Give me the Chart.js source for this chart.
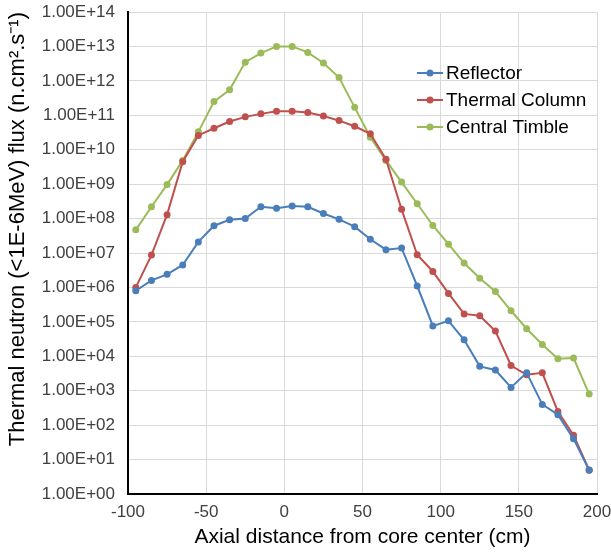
<!DOCTYPE html>
<html>
<head>
<meta charset="utf-8">
<script src="https://cdn.jsdelivr.net/npm/chart.js@4/dist/chart.umd.min.js"></script>
<style>
  html, body { margin: 0; padding: 0; background: #fff; }
  #wrap { width: 611px; height: 555px; }
</style>
</head>
<body>
<div id="wrap"><canvas id="flux"></canvas></div>
<script>
const xPos = [-95, -85, -75, -65, -55, -45, -35, -25, -15, -5, 5, 15, 25, 35, 45,
              55, 65, 75, 85, 95, 105, 115, 125, 135, 145, 155, 165, 175, 185, 195];

const reflector = [8e5, 1.6e6, 2.4e6, 4.5e6, 2.1e7, 6.2e7, 9.2e7, 1.0e8, 2.2e8, 2.0e8,
                   2.3e8, 2.2e8, 1.4e8, 9.5e7, 5.8e7, 2.5e7, 1.25e7, 1.4e7, 1.1e6, 7.6e4,
                   1.07e5, 3.0e4, 5.1e3, 4.0e3, 1.25e3, 3.3e3, 4.0e2, 2.0e2, 40, 5];

const thermalColumn = [1.0e6, 8.7e6, 1.3e8, 4.5e9, 2.6e10, 4.2e10, 6.6e10, 9.0e10, 1.1e11, 1.3e11,
                       1.3e11, 1.2e11, 9.5e10, 7.0e10, 4.8e10, 2.9e10, 5.3e9, 1.85e8, 8.9e6, 2.9e6,
                       6.7e5, 1.7e5, 1.5e5, 5.4e4, 5.4e3, 2.9e3, 3.3e3, 2.5e2, 51, 4.9];

const centralTimble = [4.7e7, 2.2e8, 9.7e8, 4.9e9, 3.3e10, 2.5e11, 5.5e11, 3.5e12, 6.4e12, 1.0e13,
                       1.0e13, 6.7e12, 3.3e12, 1.25e12, 1.7e11, 2.3e10, 4.9e9, 1.15e9, 2.7e8, 6.3e7,
                       1.8e7, 5.1e6, 1.85e6, 7.6e5, 2.1e5, 6.3e4, 2.2e4, 8.5e3, 8.9e3, 8.0e2];

const seriesNames = ['Reflector', 'Thermal Column', 'Central Timble'];
const seriesColors = ['#4a7ebb', '#c0504d', '#9bbb59'];
const yExponents = [0, 1, 2, 3, 4, 5, 6, 7, 8, 9, 10, 11, 12, 13, 14];

const FONT = 'Arial, "Liberation Sans", sans-serif';

function pts(vals) {
  return vals.map((v, i) => ({ x: xPos[i], y: v }));
}

function fmtExp(v) {
  const e = Math.round(Math.log10(v));
  return '1.00E' + (e < 0 ? '-' : '+') + String(Math.abs(e)).padStart(2, '0');
}

// legend drawn inside the plot area, like the original
const insideLegend = {
  id: 'insideLegend',
  afterDraw(chart) {
    const ctx = chart.ctx;
    ctx.save();
    ctx.font = '19px ' + FONT;
    ctx.textBaseline = 'middle';
    chart.data.datasets.forEach((ds, i) => {
      const y = 73 + i * 27;
      ctx.strokeStyle = ds.borderColor;
      ctx.lineWidth = 2;
      ctx.beginPath();
      ctx.moveTo(417, y);
      ctx.lineTo(443, y);
      ctx.stroke();
      ctx.fillStyle = ds.borderColor;
      ctx.beginPath();
      ctx.arc(430, y, 3.5, 0, Math.PI * 2);
      ctx.fill();
      ctx.fillStyle = '#000';
      ctx.fillText(ds.label, 446, y + 1);
    });
    ctx.restore();
  }
};

const datasets = [reflector, thermalColumn, centralTimble].map((vals, i) => ({
  label: seriesNames[i],
  data: pts(vals),
  borderColor: seriesColors[i],
  backgroundColor: seriesColors[i],
  borderWidth: 2,
  pointRadius: 3.5,
  pointBorderWidth: 0,
  tension: 0
}));

new Chart(document.getElementById('flux'), {
  type: 'line',
  data: { datasets: datasets },
  options: {
    responsive: true,
    maintainAspectRatio: false,
    animation: false,
    layout: { padding: { top: 12, right: 14, left: 0, bottom: 0 } },
    plugins: {
      legend: { display: false },
      tooltip: { enabled: false }
    },
    scales: {
      x: {
        type: 'linear',
        min: -100,
        max: 200,
        ticks: {
          stepSize: 50,
          color: '#404040',
          font: { family: FONT, size: 17 },
          padding: 8,
          maxRotation: 0
        },
        grid: { color: '#d9d9d9', lineWidth: 1, drawTicks: false },
        border: { color: '#000', width: 2 },
        title: {
          display: true,
          text: 'Axial distance from core center (cm)',
          color: '#000',
          font: { family: FONT, size: 21 },
          padding: { top: 4, bottom: 5 }
        },
        afterFit(scale) {
          scale.height = 61;
          scale.paddingLeft = 0;
          scale.paddingRight = 0;
        }
      },
      y: {
        type: 'logarithmic',
        min: 1,
        max: 1e14,
        afterBuildTicks(scale) {
          scale.ticks = yExponents.map(e => ({ value: Math.pow(10, e) }));
        },
        ticks: {
          color: '#404040',
          font: { family: FONT, size: 17 },
          padding: 13,
          autoSkip: false,
          callback: v => fmtExp(v)
        },
        grid: { color: '#d9d9d9', lineWidth: 1, drawTicks: false },
        border: { color: '#000', width: 2 },
        title: {
          display: true,
          align: 'end',
          text: 'Thermal neutron (<1E-6MeV) flux (n.cm\u00b2.s\u207b\u00b9)',
          color: '#000',
          font: { family: FONT, size: 22 },
          padding: { top: 5, bottom: 4 }
        },
        afterFit(scale) {
          scale.width = 128;
          scale.paddingTop = 0;
          scale.paddingBottom = 0;
        }
      }
    }
  },
  plugins: [insideLegend]
});
</script>
</body>
</html>
